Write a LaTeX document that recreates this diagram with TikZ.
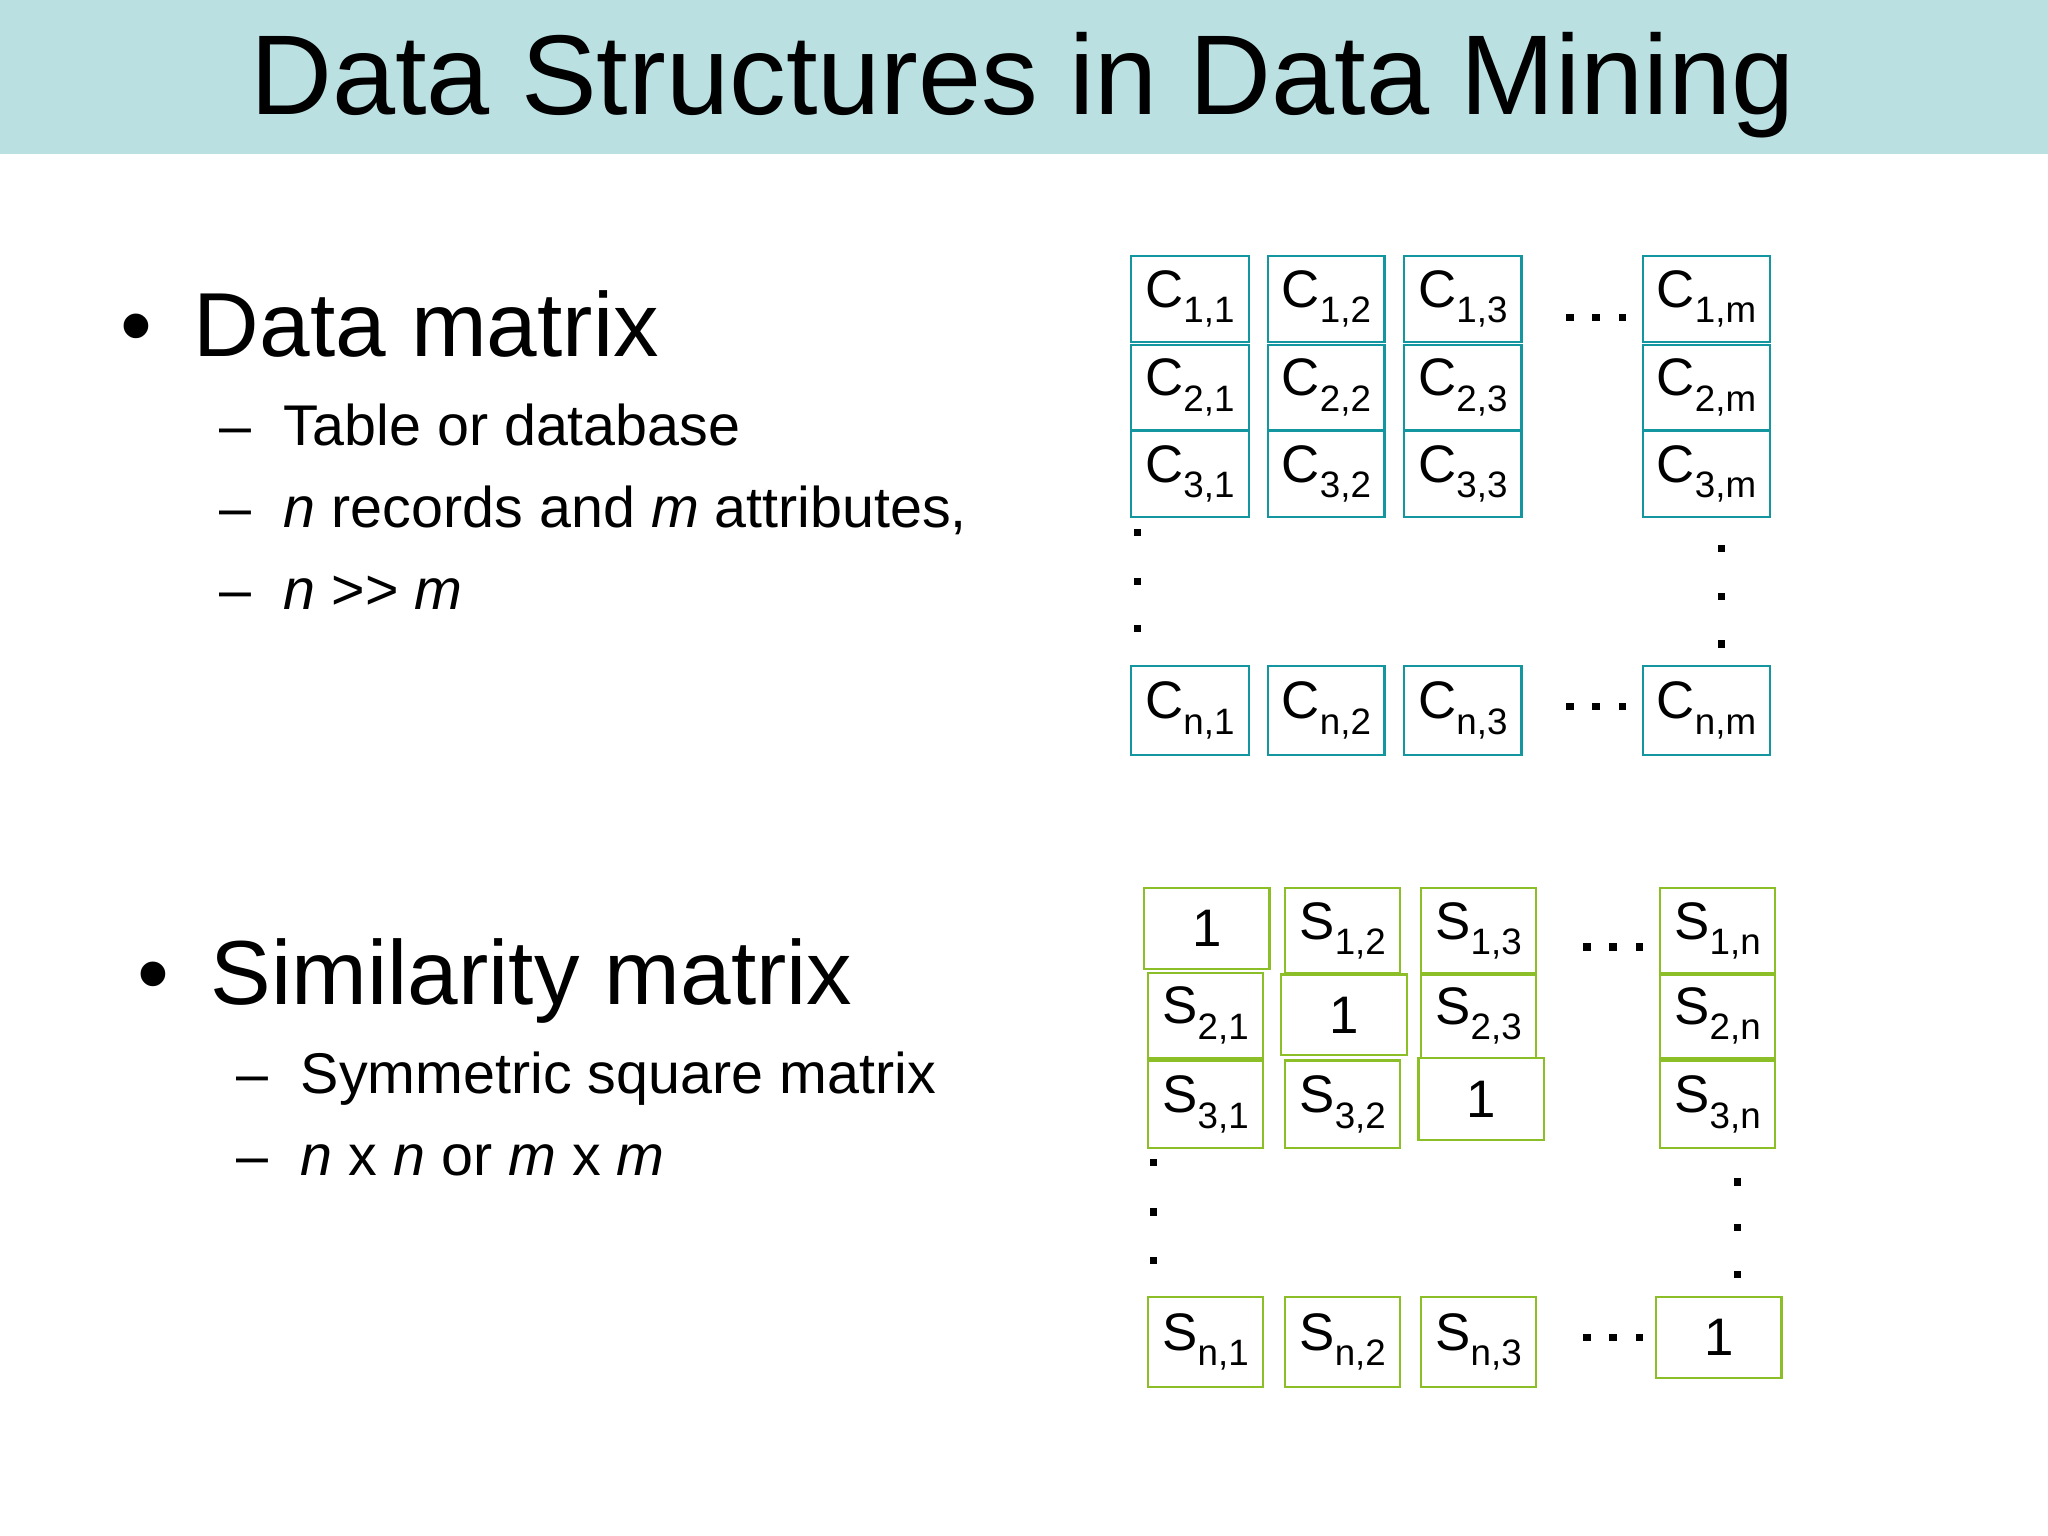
\documentclass[tikz,border=0pt]{standalone}
\usepackage{fontspec}
\setmainfont{Liberation Sans}
\definecolor{band}{RGB}{186,224,226}
\definecolor{cc}{RGB}{20,150,160}
\definecolor{sc}{RGB}{140,190,40}
\tikzset{cbox/.style={draw=cc,line width=0.5pt,inner sep=0pt,font=\fontsize{11.5}{14}\selectfont},
sbox/.style={draw=sc,line width=0.5pt,inner sep=0pt,font=\fontsize{11.5}{14}\selectfont},
sub/.style={anchor=base west,font=\fontsize{12.5}{14}\selectfont},
big/.style={anchor=base west,font=\fontsize{19.8}{24}\selectfont},
dot/.style={fill=black,minimum size=0.055cm,inner sep=0pt,rectangle}}
\newcommand{\bx}[7]{\node[#7,minimum width={(#4-#2)*0.01cm},minimum height={(#5-#3)*0.01cm}] (#1) at ({(#2+#4)/2},{(#3+#5)/2}) {#6};}
\newcommand{\ssb}[1]{\raisebox{-0.55ex}{\fontsize{8}{9}\selectfont #1}}
\begin{document}
\begin{tikzpicture}[x=0.01cm,y=-0.01cm]
\useasboundingbox (0,0) rectangle (1568,1176);
\fill[band] (0,0) rectangle (1568,118);
\node[font=\fontsize{24.7}{30}\selectfont] (title) at (783,65) {Data Structures in Data Mining};
% left text
\node[big] (d1) at (80,273) {•};
\node[big] (b1) at (136,273) {Data matrix};
\node[sub] (e1) at (156,341) {–};
\node[sub] (s1) at (205,341) {Table or database};
\node[sub] (e2) at (156,404) {–};
\node[sub] (s2) at (205,404) {\textit{n} records and \textit{m} attributes,};
\node[sub] (e3) at (156,467) {–};
\node[sub] (s3) at (205,467) {\textit{n} {>}{>} \textit{m}};
\node[big] (d2) at (93,769) {•};
\node[big] (b2) at (149,769) {Similarity matrix};
\node[sub] (e4) at (169,837) {–};
\node[sub] (s4) at (218,837) {Symmetric square matrix};
\node[sub] (e5) at (169,900) {–};
\node[sub] (s5) at (218,900) {\textit{n} x \textit{n} or \textit{m} x \textit{m}};
% C matrix
\bx{c11}{866}{196}{956}{262}{C\ssb{1,1}}{cbox}
\bx{c12}{971}{196}{1060}{262}{C\ssb{1,2}}{cbox}
\bx{c13}{1075}{196}{1165}{262}{C\ssb{1,3}}{cbox}
\bx{c1m}{1258}{196}{1355}{262}{C\ssb{1,m}}{cbox}
\bx{c21}{866}{264}{956}{329}{C\ssb{2,1}}{cbox}
\bx{c22}{971}{264}{1060}{329}{C\ssb{2,2}}{cbox}
\bx{c23}{1075}{264}{1165}{329}{C\ssb{2,3}}{cbox}
\bx{c2m}{1258}{264}{1355}{329}{C\ssb{2,m}}{cbox}
\bx{c31}{866}{330}{956}{396}{C\ssb{3,1}}{cbox}
\bx{c32}{971}{330}{1060}{396}{C\ssb{3,2}}{cbox}
\bx{c33}{1075}{330}{1165}{396}{C\ssb{3,3}}{cbox}
\bx{c3m}{1258}{330}{1355}{396}{C\ssb{3,m}}{cbox}
\bx{cn1}{866}{510}{956}{578}{C\ssb{n,1}}{cbox}
\bx{cn2}{971}{510}{1060}{578}{C\ssb{n,2}}{cbox}
\bx{cn3}{1075}{510}{1165}{578}{C\ssb{n,3}}{cbox}
\bx{cnm}{1258}{510}{1355}{578}{C\ssb{n,m}}{cbox}
\foreach \x in {1202,1222,1242}{\node[dot] at (\x,243){}; \node[dot] at (\x,541){};}
\foreach \y in {408,445,481}{\node[dot] at (871,\y){};}
\foreach \y in {420,457,493}{\node[dot] at (1318,\y){};}
% S matrix
\bx{s11}{876}{680}{972}{742}{1}{sbox}
\bx{s12}{984}{680}{1072}{745}{S\ssb{1,2}}{sbox}
\bx{s13}{1088}{680}{1176}{745}{S\ssb{1,3}}{sbox}
\bx{s1n}{1271}{680}{1359}{745}{S\ssb{1,n}}{sbox}
\bx{s21}{879}{745}{967}{810}{S\ssb{2,1}}{sbox}
\bx{s22}{981}{746}{1077}{808}{1}{sbox}
\bx{s23}{1088}{746}{1176}{810}{S\ssb{2,3}}{sbox}
\bx{s2n}{1271}{746}{1359}{810}{S\ssb{2,n}}{sbox}
\bx{s31}{879}{812}{967}{879}{S\ssb{3,1}}{sbox}
\bx{s32}{984}{812}{1072}{879}{S\ssb{3,2}}{sbox}
\bx{s33}{1086}{810}{1182}{873}{1}{sbox}
\bx{s3n}{1271}{812}{1359}{879}{S\ssb{3,n}}{sbox}
\bx{sn1}{879}{993}{967}{1062}{S\ssb{n,1}}{sbox}
\bx{sn2}{984}{993}{1072}{1062}{S\ssb{n,2}}{sbox}
\bx{sn3}{1088}{993}{1176}{1062}{S\ssb{n,3}}{sbox}
\bx{snn}{1268}{993}{1364}{1055}{1}{sbox}
\foreach \x in {1215,1235,1255}{\node[dot] at (\x,725){}; \node[dot] at (\x,1024){};}
\foreach \y in {890,928,965}{\node[dot] at (883,\y){};}
\foreach \y in {905,940,976}{\node[dot] at (1330,\y){};}
\end{tikzpicture}
\end{document}
